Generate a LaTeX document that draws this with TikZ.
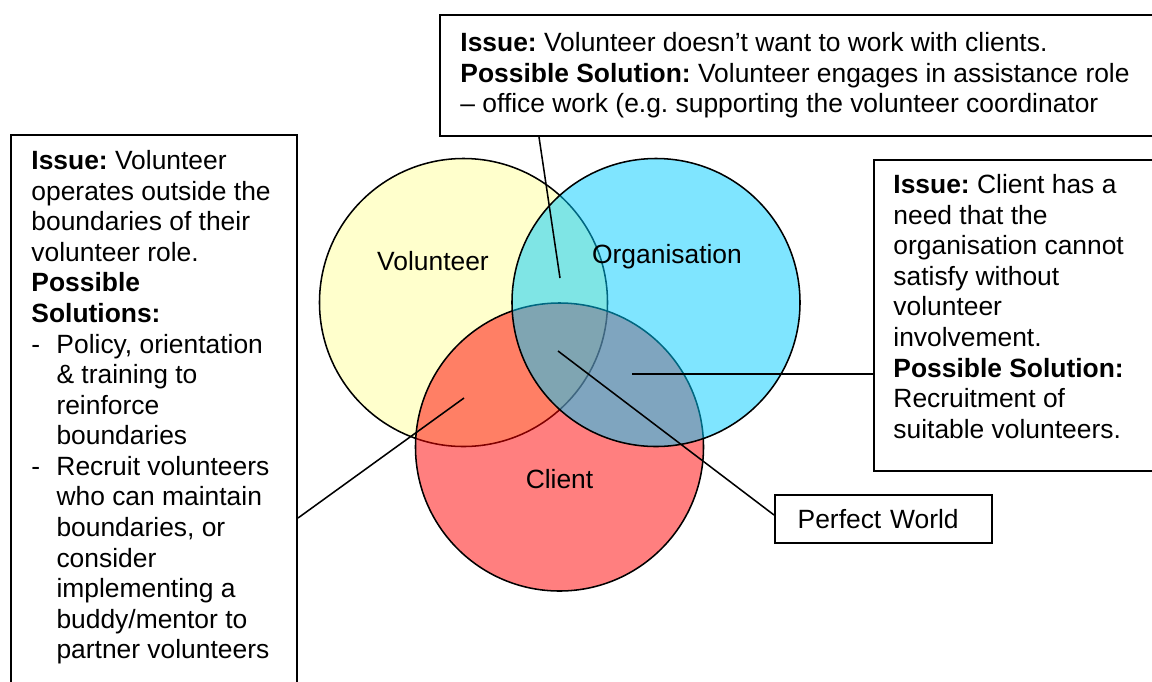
\documentclass[tikz,border=0pt]{standalone}
\usepackage{fontspec}
\setmainfont{Liberation Sans}
\usetikzlibrary{positioning, calc}
\definecolor{volyellow}{RGB}{255, 255, 204}
\definecolor{orgcyan}{RGB}{0, 204, 255}
\definecolor{clired}{RGB}{255, 0, 0}
\newcommand{\dashitem}{\makebox[11.4pt][l]{-}}
\newcommand{\hang}{\hspace*{11.4pt}}
\frenchspacing

\begin{document}
\begin{tikzpicture}[x=0.4545pt, y=-0.4545pt,
  venn/.style={circle, draw=black, line width=0.7pt, minimum size=130.9pt, inner sep=0pt},
  callout/.style={draw=black, line width=0.9pt, anchor=north west, inner sep=0pt},
  calltext/.style={anchor=north west, align=left, inner sep=0pt, font=\fontsize{12}{13.9}\selectfont},
  vennlabel/.style={anchor=base, inner sep=0pt, font=\fontsize{12}{13.9}\selectfont},
  pin/.style={line width=0.7pt}]
  \useasboundingbox (0,0) rectangle (1152,681);
  \clip (0,0) rectangle (1152,681);

  % Circles
  \node[venn, fill=volyellow] (vol) at (463.5, 302.5) {};
  \node[venn, fill=clired, fill opacity=0.5] (cli) at (559.5, 447) {};
  \node[venn, fill=orgcyan, fill opacity=0.5] (org) at (656, 302.5) {};

  \node[vennlabel] (vollbl) at (433, 270) {Volunteer};
  \node[vennlabel] (orglbl) at (667, 263) {Organisation};
  \node[vennlabel] (clilbl) at (559.5, 488) {Client};

  % pin ends inside the overlaps
  \coordinate (vo) at (560, 278);
  \coordinate (vc) at (464, 398);
  \coordinate (oc) at (632, 374);
  \coordinate (voc) at (558, 351);

  % Callout boxes
  \node[callout, minimum width=332.2pt, minimum height=55pt] (topbox) at (439, 14) {};
  \node[calltext] (toptext) at (460, 32) {%
    \textbf{Issue:} Volunteer doesn’t want to work with clients.\\
    \textbf{Possible Solution:} Volunteer engages in assistance role\\
    – office work (e.g. supporting the volunteer coordinator};

  \node[callout, minimum width=130pt, minimum height=266.3pt] (leftbox) at (10, 134) {};
  \node[calltext] (lefttext) at (31, 150) {%
    \textbf{Issue:} Volunteer\\
    operates outside the\\
    boundaries of their\\
    volunteer role.\\
    \textbf{Possible}\\
    \textbf{Solutions:}\\
    \dashitem Policy, orientation\\
    \hang \& training to\\
    \hang reinforce\\
    \hang boundaries\\
    \dashitem Recruit volunteers\\
    \hang who can maintain\\
    \hang boundaries, or\\
    \hang consider\\
    \hang implementing a\\
    \hang buddy/mentor to\\
    \hang partner volunteers};

  \node[callout, minimum width=135pt, minimum height=141.3pt] (rightbox) at (873, 159) {};
  \node[calltext] (righttext) at (893, 174) {%
    \textbf{Issue:} Client has a\\
    need that the\\
    organisation cannot\\
    satisfy without\\
    volunteer\\
    involvement.\\
    \textbf{Possible Solution:}\\
    Recruitment of\\
    suitable volunteers.};

  \node[draw=black, line width=0.9pt, minimum width=98.6pt, minimum height=21.8pt,
        text width=78pt, align=left, inner xsep=10pt, inner ysep=0pt,
        font=\fontsize{12}{13.9}\selectfont] (perfect) at (883.5, 519) {Perfect World};

  % Pins
  \draw[pin] ($(topbox.south west)+(100,0)$) -- (vo);
  \draw[pin] ($(leftbox.north east)+(0,384)$) -- (vc);
  \draw[pin] (rightbox.west |- oc) -- (oc);
  \draw[pin] ($(perfect.west)+(0,-4)$) -- (voc);
\end{tikzpicture}
\end{document}
